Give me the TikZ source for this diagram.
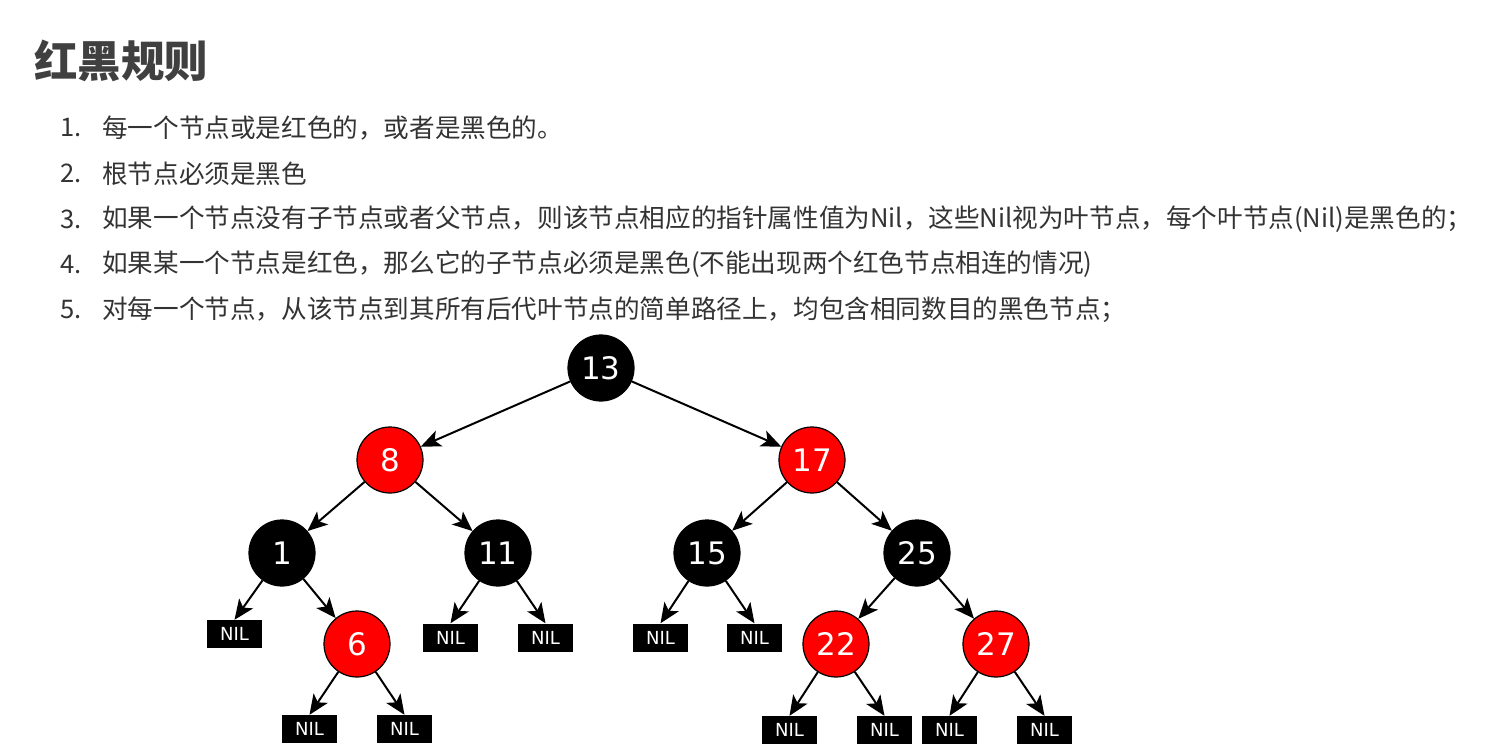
\documentclass[tikz,border=0pt]{standalone}
\usepackage{fontspec}
\newfontfamily\cjk{Noto Sans CJK SC}
\newfontfamily\dv{DejaVu Sans}
\usetikzlibrary{arrows.meta}
\definecolor{txt}{HTML}{333333}
\definecolor{ttl}{HTML}{404040}
\definecolor{rbred}{HTML}{FF0000}
\tikzset{
  title/.style={anchor=west,inner sep=0pt,text=ttl,font=\cjk\bfseries\fontsize{43.5}{43.5}\selectfont},
  item/.style={anchor=west,inner sep=0pt,text=txt,font=\cjk\fontsize{25.6}{25.6}\selectfont},
  blk/.style={circle,fill=black,draw=black,line width=1.2pt,minimum size=66pt,inner sep=0pt,text=white,font=\dv\fontsize{31}{31}\selectfont},
  red/.style={blk,fill=rbred},
  nil/.style={rectangle,fill=black,minimum width=55pt,minimum height=28pt,inner sep=0pt,text=white,font=\dv\fontsize{18}{18}\selectfont},
  edge/.style={line width=2pt,-{Stealth[length=20pt,width=17pt,inset=5pt]}},
}
\begin{document}
\begin{tikzpicture}[x=1pt,y=-1pt]
\useasboundingbox (0,0) rectangle (1489,750);
\node[title] (t) at (34,61) {红黑规则};
\node[item] (n1) at (60,128) {1.};
\node[item] (l1) at (102,128) {每一个节点或是红色的，或者是黑色的。};
\node[item] (n2) at (60,173.5) {2.};
\node[item] (l2) at (102,173.5) {根节点必须是黑色};
\node[item] (n3) at (60,219) {3.};
\node[item] (l3) at (102,219) {如果一个节点没有子节点或者父节点，则该节点相应的指针属性值为Nil，这些Nil视为叶节点，每个叶节点(Nil)是黑色的；};
\node[item] (n4) at (60,264.5) {4.};
\node[item] (l4) at (102,264.5) {如果某一个节点是红色，那么它的子节点必须是黑色(不能出现两个红色节点相连的情况)};
\node[item] (n5) at (60,310) {5.};
\node[item] (l5) at (102,310) {对每一个节点，从该节点到其所有后代叶节点的简单路径上，均包含相同数目的黑色节点；};

\node[blk] (a13) at (601,368) {13};
\node[red] (a8) at (390,460) {8};
\node[red] (a17) at (812,460) {17};
\node[blk] (a1) at (282,553) {1};
\node[blk] (a11) at (498,553) {11};
\node[blk] (a15) at (707,553) {15};
\node[blk] (a25) at (917,553) {25};
\node[red] (a6) at (357,644) {6};
\node[red] (a22) at (836,644) {22};
\node[red] (a27) at (996,644) {27};

\node[nil] (x1) at (234.5,634) {NIL};
\node[nil] (x6l) at (309.5,729) {NIL};
\node[nil] (x6r) at (404.5,729) {NIL};
\node[nil] (x11l) at (450.5,637.5) {NIL};
\node[nil] (x11r) at (545.5,637.5) {NIL};
\node[nil] (x15l) at (660.5,637.5) {NIL};
\node[nil] (x15r) at (754.5,637.5) {NIL};
\node[nil] (x22l) at (789.5,730) {NIL};
\node[nil] (x22r) at (884.5,730) {NIL};
\node[nil] (x27l) at (949.5,730) {NIL};
\node[nil] (x27r) at (1044.5,730) {NIL};

\draw[edge] (a13) -- (a8);
\draw[edge] (a13) -- (a17);
\draw[edge] (a8) -- (a1);
\draw[edge] (a8) -- (a11);
\draw[edge] (a17) -- (a15);
\draw[edge] (a17) -- (a25);
\draw[edge] (a1) -- (x1.north);
\draw[edge] (a1) -- (a6);
\draw[edge] (a6) -- (x6l.north);
\draw[edge] (a6) -- (x6r.north);
\draw[edge] (a11) -- (x11l.north);
\draw[edge] (a11) -- (x11r.north);
\draw[edge] (a15) -- (x15l.north);
\draw[edge] (a15) -- (x15r.north);
\draw[edge] (a25) -- (a22);
\draw[edge] (a25) -- (a27);
\draw[edge] (a22) -- (x22l.north);
\draw[edge] (a22) -- (x22r.north);
\draw[edge] (a27) -- (x27l.north);
\draw[edge] (a27) -- (x27r.north);
\end{tikzpicture}
\end{document}
